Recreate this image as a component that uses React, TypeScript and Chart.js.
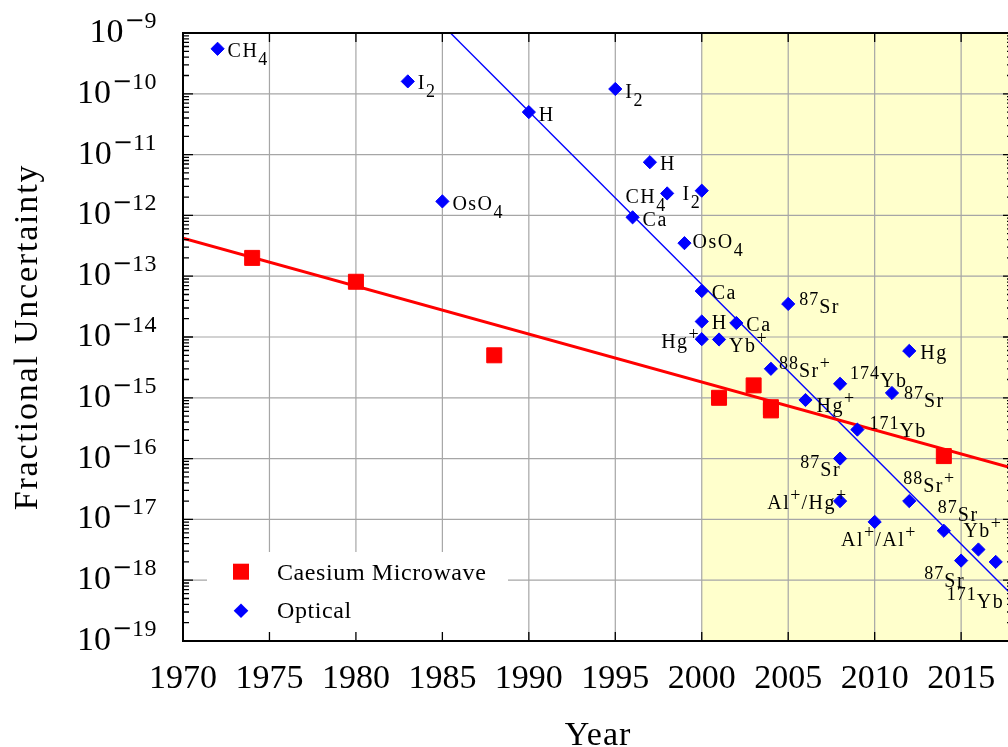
import React, { useEffect, useRef } from 'react';
import { Chart, registerables } from 'chart.js';

Chart.register(...registerables);

const SERIF = '"Liberation Serif", "Times New Roman", serif';

// Caesium microwave clocks
const caesiumYears = [1974, 1980, 1988, 2001, 2003, 2004, 2004, 2014];
const caesiumValues = [2.0e-13, 8.1e-14, 5.0e-15, 1.0e-15, 1.6e-15, 7.0e-16, 6.2e-16, 1.1e-16];

// Optical frequency standards
const opticalYears = [
  1972, 1983, 1985, 1990, 1995, 1997, 1998, 2000, 1996, 1999,
  2000, 2000, 2000, 2002, 2001, 2005, 2004, 2012, 2008, 2011,
  2006, 2009, 2008, 2008, 2010, 2012, 2014, 2015, 2016, 2017,
];
const opticalValues = [
  5.5e-10, 1.6e-10, 1.7e-12, 5.0e-11, 1.2e-10, 7.5e-12, 2.3e-12, 2.55e-12, 9.3e-13, 3.5e-13,
  5.7e-14, 1.8e-14, 9.2e-15, 1.7e-14, 9.1e-15, 3.5e-14, 3.0e-15, 5.9e-15, 1.7e-15, 1.2e-15,
  9.2e-16, 3.0e-16, 1.0e-16, 2.0e-17, 9.1e-18, 2.0e-17, 6.5e-18, 2.1e-18, 3.2e-18, 2.0e-18,
];
const opticalLabels = [
  'CH_4', 'I_2', 'OsO_4', 'H', 'I_2', 'H', 'CH_4', 'I_2', 'Ca', 'OsO_4',
  'Ca', 'H', 'Hg^+', 'Ca', 'Yb^+', '^{87}Sr', '^{88}Sr^+', 'Hg', '^{174}Yb', '^{87}Sr',
  'Hg^+', '^{171}Yb', '^{87}Sr', 'Al^+/Hg^+', 'Al^+/Al^+', '^{88}Sr^+', '^{87}Sr', '^{87}Sr', 'Yb^+', '^{171}Yb',
];

// Where each label sits relative to its marker: [alignment, x offset, baseline offset]
const labelPlacement: [string, number, number][] = [
  ['left', 10, 8], ['left', 10, 8], ['left', 10, 9], ['left', 10, 9], ['left', 10, 9],
  ['left', 10, 8], ['right', -1, 10], ['right', -1, 9], ['left', 10, 9], ['left', 8, 5],
  ['left', 10, 8], ['left', 10, 8], ['right', -2, 9], ['left', 10, 8], ['left', 10, 13],
  ['left', 11, 9], ['left', 8, 8], ['left', 11, 8], ['left', 10, 3], ['left', 12, 14],
  ['left', 11, 12], ['left', 12, 7], ['right', 1, 17], ['right', 7, 8], ['center', 4, 24],
  ['left', -6, -9], ['left', -6, -10], ['right', 4, 26], ['left', -15, -12], ['left', -49, 46],
];

// Exponential trend lines
const caesiumFitYears = [1970, 2018];
const caesiumFitValues = [4.2e-13, 6.9e-17];
const opticalFitYears = [1985, 2018];
const opticalFitValues = [1.36e-9, 5.5e-19];

const xTickYears = [1970, 1975, 1980, 1985, 1990, 1995, 2000, 2005, 2010, 2015];
const yDecades = [-9, -10, -11, -12, -13, -14, -15, -16, -17, -18, -19];
const shadeFromYear = 2000;
const X_MIN = 1970;
const X_MAX = 2018;
const Y_MIN = 1e-19;
const Y_MAX = 1e-9;

const RED = '#ff0000';
const BLUE = '#0000ff';

type Seg = { t: string; k: 'n' | 'sup' | 'sub' };

function parseRich(s: string): Seg[] {
  const out: Seg[] = [];
  let buf = '';
  let i = 0;
  while (i < s.length) {
    const c = s[i];
    if (c === '^' || c === '_') {
      if (buf) {
        out.push({ t: buf, k: 'n' });
        buf = '';
      }
      let t = '';
      if (s[i + 1] === '{') {
        const j = s.indexOf('}', i + 2);
        t = s.slice(i + 2, j);
        i = j + 1;
      } else {
        t = s[i + 1];
        i += 2;
      }
      out.push({ t, k: c === '^' ? 'sup' : 'sub' });
    } else {
      buf += c;
      i++;
    }
  }
  if (buf) out.push({ t: buf, k: 'n' });
  return out;
}

function setSegFont(ctx: CanvasRenderingContext2D, k: string) {
  ctx.font = k === 'n' ? `20px ${SERIF}` : `18px ${SERIF}`;
  (ctx as any).letterSpacing = k === 'n' ? '1.5px' : '1px';
}

function drawRich(ctx: CanvasRenderingContext2D, s: string, x: number, y: number, align: string) {
  const segs = parseRich(s);
  const widths = segs.map((sg) => {
    setSegFont(ctx, sg.k);
    return ctx.measureText(sg.t).width;
  });
  const total = widths.reduce((a, b) => a + b, 0);
  let cx = align === 'left' ? x : align === 'right' ? x - total : x - total / 2;
  ctx.textAlign = 'left';
  ctx.textBaseline = 'alphabetic';
  segs.forEach((sg, i) => {
    setSegFont(ctx, sg.k);
    const dy = sg.k === 'sup' ? -8 : sg.k === 'sub' ? 8 : 0;
    ctx.fillText(sg.t, cx, y + dy);
    cx += widths[i];
  });
}

const decorations = {
  id: 'decorations',
  beforeDatasetsDraw(chart: any) {
    const { ctx, chartArea: a, scales } = chart;
    const x = scales.x;
    const y = scales.y;
    ctx.save();
    // shaded era of optical clocks
    const xs = x.getPixelForValue(shadeFromYear);
    ctx.fillStyle = '#ffffcc';
    ctx.fillRect(xs, a.top, a.right - xs, a.bottom - a.top);
    // grid
    ctx.strokeStyle = '#a6a6a6';
    ctx.lineWidth = 1.2;
    ctx.beginPath();
    for (const yr of xTickYears) {
      if (yr === X_MIN) continue;
      const px = x.getPixelForValue(yr);
      ctx.moveTo(px, a.top);
      ctx.lineTo(px, a.bottom);
    }
    for (const e of yDecades) {
      const v = Math.pow(10, e);
      if (e === -9 || e === -19) continue;
      const py = y.getPixelForValue(v);
      ctx.moveTo(a.left, py);
      ctx.lineTo(a.right, py);
    }
    ctx.stroke();
    ctx.restore();
  },
  afterDatasetsDraw(chart: any) {
    const { ctx, chartArea: a, scales } = chart;
    const x = scales.x;
    const y = scales.y;
    ctx.save();
    ctx.fillStyle = '#000';

    // point labels
    opticalLabels.forEach((lab, i) => {
      const px = x.getPixelForValue(opticalYears[i]);
      const py = y.getPixelForValue(opticalValues[i]);
      const [align, dx, dy] = labelPlacement[i];
      drawRich(ctx, lab, px + dx, py + dy, align);
    });

    // legend
    const lx = a.left + 24;
    const ly = a.bottom - 89;
    ctx.fillStyle = '#ffffff';
    ctx.fillRect(lx, ly, 301, 88);
    const mx = a.left + 58;
    const sqY = a.bottom - 69.3;
    ctx.fillStyle = RED;
    ctx.fillRect(mx - 8, sqY - 8, 16, 16);
    const dmY = a.bottom - 30.3;
    ctx.fillStyle = BLUE;
    ctx.beginPath();
    ctx.moveTo(mx, dmY - 7.3);
    ctx.lineTo(mx + 7.3, dmY);
    ctx.lineTo(mx, dmY + 7.3);
    ctx.lineTo(mx - 7.3, dmY);
    ctx.closePath();
    ctx.fill();
    ctx.fillStyle = '#000';
    ctx.font = `24px ${SERIF}`;
    (ctx as any).letterSpacing = '0.6px';
    ctx.textAlign = 'left';
    ctx.textBaseline = 'alphabetic';
    ctx.fillText('Caesium Microwave', a.left + 94, a.bottom - 61);
    ctx.fillText('Optical', a.left + 94, a.bottom - 23);

    // axis frame
    ctx.strokeStyle = '#000';
    ctx.lineWidth = 2;
    ctx.strokeRect(a.left, a.top, a.right - a.left, a.bottom - a.top);

    // tick marks
    ctx.lineWidth = 1.3;
    ctx.beginPath();
    for (const yr of xTickYears) {
      if (yr === X_MIN) continue;
      const px = x.getPixelForValue(yr);
      ctx.moveTo(px, a.top);
      ctx.lineTo(px, a.top + 9);
      ctx.moveTo(px, a.bottom);
      ctx.lineTo(px, a.bottom - 9);
    }
    for (const e of yDecades) {
      const py = y.getPixelForValue(Math.pow(10, e));
      ctx.moveTo(a.left, py);
      ctx.lineTo(a.left + 10, py);
      ctx.moveTo(a.right, py);
      ctx.lineTo(a.right - 10, py);
      if (e === -9) continue;
      for (let m = 2; m <= 9; m++) {
        const pm = y.getPixelForValue(m * Math.pow(10, e));
        ctx.moveTo(a.left, pm);
        ctx.lineTo(a.left + 6, pm);
        ctx.moveTo(a.right, pm);
        ctx.lineTo(a.right - 6, pm);
      }
    }
    ctx.stroke();

    // y tick labels: 10^{-n}
    ctx.textAlign = 'left';
    for (const e of yDecades) {
      const py = y.getPixelForValue(Math.pow(10, e));
      const right = a.left - 26;
      ctx.font = `24px ${SERIF}`;
      (ctx as any).letterSpacing = '0.5px';
      const digits = String(-e);
      const dw = ctx.measureText(digits).width;
      ctx.fillText(digits, right - dw, py - 5);
      ctx.font = `24px "DejaVu Serif", serif`;
      (ctx as any).letterSpacing = '0px';
      const mw = ctx.measureText('\u2212').width;
      const minusX = right - dw - mw;
      ctx.fillText('\u2212', minusX, py - 5);
      ctx.font = `34px ${SERIF}`;
      const tw = ctx.measureText('10').width;
      ctx.fillText('10', minusX - 1 - tw, py + 9);
    }

    // x tick labels
    ctx.font = `34px ${SERIF}`;
    (ctx as any).letterSpacing = '0px';
    ctx.textAlign = 'center';
    for (const yr of xTickYears) {
      ctx.fillText(String(yr), x.getPixelForValue(yr), a.bottom + 47);
    }

    // axis titles
    (ctx as any).letterSpacing = '1px';
    ctx.fillText('Year', (a.left + a.right) / 2, a.bottom + 104);
    ctx.save();
    ctx.translate(37, (a.top + a.bottom) / 2);
    ctx.rotate(-Math.PI / 2);
    (ctx as any).letterSpacing = '1.8px';
    ctx.fillText('Fractional Uncertainty', 0, 0);
    ctx.restore();

    ctx.restore();
  },
};

export default function App() {
  const canvasRef = useRef<HTMLCanvasElement | null>(null);

  useEffect(() => {
    const canvas = canvasRef.current;
    if (!canvas) return;
    const chart = new Chart(canvas, {
      type: 'scatter',
      data: {
        datasets: [
          {
            label: 'Caesium Microwave',
            data: caesiumYears.map((yr, i) => ({ x: yr, y: caesiumValues[i] })),
            pointStyle: 'rect',
            pointRadius: 10.6,
            backgroundColor: RED,
            borderColor: RED,
            borderWidth: 1,
          },
          {
            label: 'Optical',
            data: opticalYears.map((yr, i) => ({ x: yr, y: opticalValues[i] })),
            pointStyle: 'rectRot',
            pointRadius: 6.6,
            backgroundColor: BLUE,
            borderColor: BLUE,
            borderWidth: 1,
          },
          {
            label: 'Caesium trend',
            data: caesiumFitYears.map((yr, i) => ({ x: yr, y: caesiumFitValues[i] })),
            showLine: true,
            pointRadius: 0,
            borderColor: RED,
            borderWidth: 3,
            fill: false,
          },
          {
            label: 'Optical trend',
            data: opticalFitYears.map((yr, i) => ({ x: yr, y: opticalFitValues[i] })),
            showLine: true,
            pointRadius: 0,
            borderColor: BLUE,
            borderWidth: 1.4,
            fill: false,
          },
        ],
      },
      options: {
        animation: false,
        responsive: false,
        devicePixelRatio: 1,
        events: [],
        layout: { autoPadding: false, padding: { top: 33, right: 3, left: 0, bottom: 0 } },
        plugins: { legend: { display: false }, tooltip: { enabled: false } },
        scales: {
          x: {
            type: 'linear',
            min: X_MIN,
            max: X_MAX,
            ticks: { display: false },
            grid: { display: false },
            border: { display: false },
            afterFit: (s: any) => {
              s.height = 106;
            },
          },
          y: {
            type: 'logarithmic',
            min: Y_MIN,
            max: Y_MAX,
            ticks: { display: false },
            grid: { display: false },
            border: { display: false },
            afterFit: (s: any) => {
              s.width = 183;
            },
          },
        },
      },
      plugins: [decorations],
    } as any);
    return () => chart.destroy();
  }, []);

  return (
    <div
      style={{
        position: 'fixed',
        left: 0,
        top: 0,
        width: 1008,
        height: 747,
        overflow: 'hidden',
        background: '#ffffff',
      }}
    >
      <div style={{ width: 1016, height: 747 }}>
        <canvas ref={canvasRef} width={1016} height={747} style={{ display: 'block', width: 1016, height: 747 }} />
      </div>
    </div>
  );
}
